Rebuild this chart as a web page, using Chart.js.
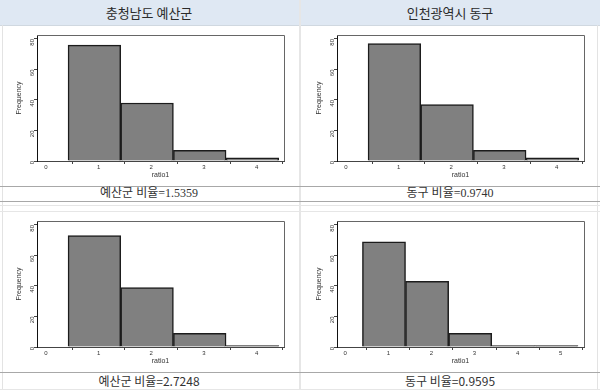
<!DOCTYPE html>
<html>
<head>
<meta charset="utf-8">
<script src="https://cdn.jsdelivr.net/npm/chart.js@4"></script>
<style>
    body { margin: 0; width: 600px; height: 390px; background: #fff; position: relative; overflow: hidden; font-family: "Noto Sans CJK KR", sans-serif; }
    .abs { position: absolute; }
    .head { top: 0; height: 25px; width: 600px; left: 0; background: #dfe8f3; border-bottom: 1px solid #d0d8e0; }
    .headText { top: 0; height: 25px; line-height: 25px; width: 298px; text-align: center; font-size: 13px; color: #2a2a2a; }
    .vline { left: 299px; top: 0; width: 2px; height: 390px; background: #e6e6e6; }
    .lline { left: 2px; top: 25px; width: 1px; height: 365px; background: #e3e3e3; }
    .rline { left: 597px; top: 25px; width: 1px; height: 365px; background: #e3e3e3; }
    .hline { left: 0; width: 600px; height: 1px; background: #a8a8a8; }
    .hlineLight { left: 0; width: 600px; height: 1px; background: #e6e6e6; }
    .cap { height: 15px; line-height: 15px; width: 298px; text-align: center; font-size: 12px; color: #333; }
    .serif { font-family: "Liberation Serif", "Noto Sans CJK KR", serif; }
    .box { width: 298px; height: 161px; }
</style>
</head>
<body>
<div class="abs head"></div>
<div class="abs headText" style="left:0">충청남도 예산군</div>
<div class="abs headText" style="left:301px">인천광역시 동구</div>
<div class="abs lline"></div>
<div class="abs rline"></div>
<div class="abs vline"></div>

<div class="abs box" style="left:0;top:25px"><canvas id="c1"></canvas></div>
<div class="abs box" style="left:300px;top:25px"><canvas id="c2"></canvas></div>

<div class="abs hline" style="top:186px"></div>
<div class="abs cap serif" style="left:0;top:186px">예산군 비율=1.5359</div>
<div class="abs cap serif" style="left:301px;top:186px">동구 비율=0.9740</div>
<div class="abs hline" style="top:201px"></div>
<div class="abs hlineLight" style="top:205px"></div>
<div class="abs hlineLight" style="top:211px"></div>

<div class="abs box" style="left:0;top:211px"><canvas id="c3"></canvas></div>
<div class="abs box" style="left:300px;top:211px"><canvas id="c4"></canvas></div>

<div class="abs hline" style="top:372px"></div>
<div class="abs cap" style="left:0;top:373px">예산군 비율=2.7248</div>
<div class="abs cap" style="left:301px;top:373px">동구 비율=0.9595</div>
<div class="abs hlineLight" style="top:389px"></div>

<script>
// histogram bins (centre of each bar on the ratio1 axis)
const binCentersFour = [0.92, 1.92, 2.92, 3.92];
const binCentersFive = [0.9, 1.9, 2.9, 3.9, 4.9];

// frequencies
const yesanFreqTop = [76, 38, 7, 2];
const dongguFreqTop = [77, 37, 7, 2];
const yesanFreqBottom = [73, 39, 9, 1];
const dongguFreqBottom = [69, 43, 9, 1, 1];

const yTicks = [0, 20, 40, 60, 80];

// box around the plot region (Stata style)
const framePlugin = {
    id: 'frame',
    afterDraw(chart) {
        const a = chart.chartArea;
        const ctx = chart.ctx;
        ctx.save();
        ctx.strokeStyle = '#666';
        ctx.lineWidth = 1;
        ctx.beginPath();
        ctx.moveTo(a.left, a.top + 0.5);
        ctx.lineTo(a.right + 0.5, a.top + 0.5);
        ctx.lineTo(a.right + 0.5, a.bottom);
        ctx.stroke();
        ctx.restore();
    }
};

function makeHistogram(id, centers, freqs, xMin, xMax) {
    const ctx = document.getElementById(id);
    new Chart(ctx, {
        type: 'bar',
        data: {
            datasets: [{
                data: centers.map((c, i) => ({ x: c, y: freqs[i] })),
                backgroundColor: '#808080',
                borderColor: '#1c1c1c',
                borderWidth: 1.5,
                barPercentage: 1,
                categoryPercentage: 1
            }]
        },
        options: {
            responsive: true,
            maintainAspectRatio: false,
            animation: false,
            layout: { padding: { top: 10, right: 14, left: 15, bottom: 7 } },
            plugins: {
                legend: { display: false },
                tooltip: { enabled: false }
            },
            scales: {
                x: {
                    type: 'linear',
                    offset: false,
                    min: xMin,
                    max: xMax,
                    afterFit: s => { s.height = 18; },
                    ticks: {
                        stepSize: 1,
                        includeBounds: false,
                        color: '#333',
                        padding: 0,
                        font: { size: 6, family: 'Liberation Sans' }
                    },
                    grid: { drawOnChartArea: false, tickLength: 3, color: '#444' },
                    border: { color: '#444', width: 1 },
                    title: {
                        display: true,
                        text: 'ratio1',
                        color: '#333',
                        padding: { top: 0, bottom: 0 },
                        font: { size: 7, family: 'Liberation Sans' }
                    }
                },
                y: {
                    min: 0,
                    max: 82.6,
                    afterFit: s => { s.width = 22; },
                    afterBuildTicks: s => { s.ticks = yTicks.map(v => ({ value: v })); },
                    ticks: {
                        minRotation: 90,
                        maxRotation: 90,
                        color: '#333',
                        padding: 2,
                        font: { size: 6, family: 'Liberation Sans' }
                    },
                    grid: { drawOnChartArea: false, tickLength: 3, color: '#444' },
                    border: { color: '#111', width: 1 },
                    title: {
                        display: true,
                        text: 'Frequency',
                        color: '#333',
                        padding: { top: 0, bottom: 0 },
                        font: { size: 7, family: 'Liberation Sans' }
                    }
                }
            }
        },
        plugins: [framePlugin]
    });
}

makeHistogram('c1', binCentersFour, yesanFreqTop, -0.17, 4.52);
makeHistogram('c2', binCentersFour, dongguFreqTop, -0.17, 4.52);
makeHistogram('c3', binCentersFour, yesanFreqBottom, -0.17, 4.52);
makeHistogram('c4', binCentersFive, dongguFreqBottom, -0.19, 5.54);
</script>
</body>
</html>
